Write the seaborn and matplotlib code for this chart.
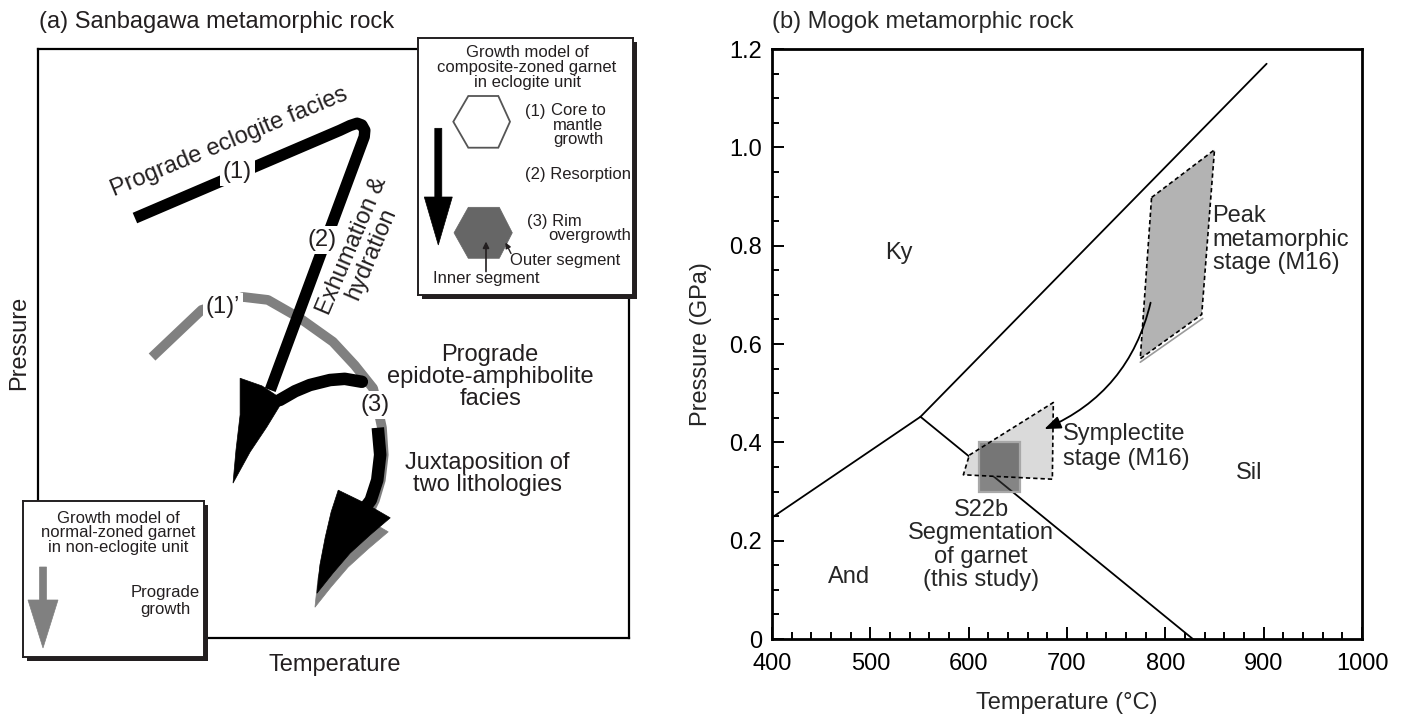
import numpy as np
import pandas as pd
import matplotlib
matplotlib.use("Agg")
import matplotlib.pyplot as plt
import seaborn as sns
from matplotlib.patches import Polygon, Rectangle, FancyArrow, FancyArrowPatch
from matplotlib.ticker import MultipleLocator, FuncFormatter
from matplotlib.transforms import offset_copy

# ---------------- panel (b) data: Mogok (T in degC, P in GPa) ----------------
ky_sil_T = [551, 903]
ky_sil_P = [0.452, 1.170]
ky_and_T = [400, 551]
ky_and_P = [0.247, 0.452]
and_sil_T = [551, 828]
and_sil_P = [0.452, 0.0]
peak_T = [786, 850, 837, 774.5]
peak_P = [0.898, 0.995, 0.660, 0.570]
peak_base_T = [774.5, 838]
peak_base_P = [0.563, 0.652]
sympl_T = [600.7, 686.1, 685.1, 594.6]
sympl_P = [0.374, 0.481, 0.325, 0.334]
s22b_T = [610, 652]
s22b_P = [0.298, 0.400]
retro_T = [785, 677]
retro_P = [0.684, 0.427]
x_major = [400, 500, 600, 700, 800, 900, 1000]
y_major = [0.0, 0.2, 0.4, 0.6, 0.8, 1.0, 1.2]

# ---------------- panel (a) data: schematic P-T paths (arbitrary 0-100 units) ----------------
ecl_T = [16.4, 51.1, 52.8, 54.0, 54.8, 55.3, 55.2, 39.3]
ecl_P = [71.3, 86.2, 87.0, 87.4, 87.1, 86.2, 85.1, 42.1]
headA_T = [34.2, 37.9, 41.5, 38.7, 35.9, 33.0, 33.5, 34.2]
headA_P = [44.1, 42.8, 40.4, 35.8, 31.6, 26.3, 31.9, 37.9]
stage3_T = [40.9, 43.5, 46.0, 49.4, 51.9, 54.8]
stage3_P = [40.4, 41.9, 42.95, 43.8, 44.0, 43.5]
juxt_T = [57.5, 57.9, 57.4, 56.3, 54.8]
juxt_P = [35.7, 31.1, 26.8, 23.4, 21.4]
headJ_T = [50.8, 55.3, 59.6, 56.2, 52.8, 49.9, 47.2, 47.7, 48.6, 49.6]
headJ_P = [25.1, 22.9, 20.4, 17.5, 14.4, 11.0, 7.6, 12.4, 17.1, 21.4]
gray_T = [19.3, 27.7, 34.7, 38.9, 44.3, 49.9, 53.6, 56.7, 57.2, 58.2, 58.5, 58.0, 57.0, 55.8]
gray_P = [47.7, 55.7, 57.9, 57.4, 54.3, 50.3, 46.3, 42.4, 40.4, 35.7, 31.1, 26.8, 23.4, 20.9]

sns.set_theme(style="ticks")
plt.rcParams["font.family"] = ["Liberation Sans", "DejaVu Sans"]
plt.rcParams["axes.linewidth"] = 1.5

W, H = 1404, 721
fig = plt.figure(figsize=(W / 100, H / 100), dpi=100)
fig.patch.set_facecolor("white")


def fx(x):
    return x / W


def fy(y):
    return 1 - y / H


TXT = "#231f20"
FS = 17

# ======================= panel (a) =======================
axA = fig.add_axes([fx(38), fy(638), fx(629) - fx(38), fy(49) - fy(638)], zorder=0)
axA.set_xlim(0, 100)
axA.set_ylim(0, 100)
axA.set_xticks([])
axA.set_yticks([])
for s in axA.spines.values():
    s.set_linewidth(1.6)
    s.set_color("black")

axA.plot(gray_T, gray_P, color="#808080", lw=7, solid_capstyle="butt",
         solid_joinstyle="round", zorder=2)
shadow_tr = offset_copy(axA.transData, fig=fig, x=-2, y=-14, units="dots")
axA.add_patch(Polygon(np.column_stack([headJ_T, headJ_P]), closed=True,
                      fc="#808080", ec="#808080", lw=0.5, transform=shadow_tr, zorder=2))
axA.plot(ecl_T, ecl_P, color="black", lw=8.2, solid_capstyle="butt",
         solid_joinstyle="round", zorder=3)
axA.add_patch(Polygon(np.column_stack([headA_T, headA_P]), closed=True,
                      fc="black", ec="black", lw=0.5, zorder=3))
axA.plot(stage3_T, stage3_P, color="black", lw=9, solid_capstyle="round", zorder=3)
axA.plot(juxt_T, juxt_P, color="black", lw=9, solid_capstyle="butt", zorder=3)
axA.add_patch(Polygon(np.column_stack([headJ_T, headJ_P]), closed=True,
                      fc="black", ec="black", lw=0.5, zorder=3))

wb = dict(boxstyle="square,pad=0.12", fc="white", ec="none")
for (t, p, s) in [(33.7, 79.1, "(1)"), (48.1, 67.6, "(2)"),
                  (31.3, 56.2, "(1)\u2019"), (57.0, 39.6, "(3)")]:
    axA.text(t, p, s, ha="center", va="center", fontsize=FS, color=TXT,
             bbox=wb, zorder=5)

axA.text(32.3, 84.2, "Prograde eclogite facies", rotation=22.5, rotation_mode="anchor",
         ha="center", va="center", fontsize=FS, color=TXT, zorder=5)
axA.text(54.8, 65.9, "Exhumation &\nhydration", rotation=67, rotation_mode="anchor",
         ha="center", va="center", multialignment="center", linespacing=0.95,
         fontsize=FS, color=TXT, zorder=5)
axA.text(76.5, 44.3, "Prograde\nepidote-amphibolite\nfacies", ha="center", va="center",
         multialignment="center", linespacing=1.0, fontsize=FS, color=TXT, zorder=5)
axA.text(76.0, 27.8, "Juxtaposition of\ntwo lithologies", ha="center", va="center",
         multialignment="center", linespacing=1.0, fontsize=FS, color=TXT, zorder=5)

fig.text(fx(335), fy(665), "Temperature", ha="center", va="center", fontsize=FS, color=TXT)
fig.text(fx(19), fy(343), "Pressure", ha="center", va="center", rotation=90,
         fontsize=FS, color=TXT)
fig.text(fx(39), fy(22), "(a) Sanbagawa metamorphic rock", ha="left", va="center",
         fontsize=FS, color=TXT)


def make_inset(x0, y0, x1, y1):
    fig.add_artist(Rectangle((fx(x0 + 4), fy(y1 + 4)), fx(x1) - fx(x0), fy(y0) - fy(y1),
                             transform=fig.transFigure, fc=TXT, ec="none", zorder=4))
    ax = fig.add_axes([fx(x0), fy(y1), fx(x1) - fx(x0), fy(y0) - fy(y1)], zorder=5)
    ax.set_facecolor("white")
    ax.set_xlim(0, x1 - x0)
    ax.set_ylim(y1 - y0, 0)
    ax.set_xticks([])
    ax.set_yticks([])
    for s in ax.spines.values():
        s.set_linewidth(1.4)
        s.set_color(TXT)
    return ax


FI = 12
# top-right inset
axI1 = make_inset(418, 38, 633, 295)
axI1.text(109, 29.5, "Growth model of\ncomposite-zoned garnet\nin eclogite unit", ha="center",
          va="center", multialignment="center", linespacing=0.98, fontsize=FI, color=TXT)
hex_out = [(35.3, 83.7), (50.3, 58), (80.3, 58), (92, 83.7), (80.3, 109.7), (50.3, 109.7)]
axI1.add_patch(Polygon(hex_out, closed=True, fill=False, ec="#555555", lw=1.3))
hex_in = [(36, 194.8), (50.3, 169.3), (81.3, 169.3), (94.3, 194.8), (81.3, 220.3), (50.3, 220.3)]
axI1.add_patch(Polygon(hex_in, closed=True, fc="#666666", ec="#666666", lw=0.5))
axI1.add_patch(FancyArrow(20.3, 90.3, 0, 116.7, width=7, head_width=28, head_length=48,
                          length_includes_head=True, fc="black", ec="black", lw=0.5))
axI1.text(107, 73.7, "(1)", ha="left", va="center", fontsize=FI, color=TXT)
axI1.text(160.3, 87.0, "Core to\nmantle\ngrowth", ha="center", va="center",
          multialignment="center", linespacing=0.92, fontsize=FI, color=TXT)
axI1.text(107, 137, "(2) Resorption", ha="left", va="center", fontsize=FI, color=TXT)
axI1.text(108.7, 183.7, "(3) Rim", ha="left", va="center", fontsize=FI, color=TXT)
axI1.text(130.3, 197, "overgrowth", ha="left", va="center", fontsize=FI, color=TXT)
axI1.text(92, 222, "Outer segment", ha="left", va="center", fontsize=FI, color=TXT)
axI1.text(15.3, 240.3, "Inner segment", ha="left", va="center", fontsize=FI, color=TXT)
axI1.annotate("", xy=(87.5, 204.5), xytext=(93, 215.5),
              arrowprops=dict(arrowstyle="-|>", lw=1.0, color=TXT, mutation_scale=8,
                              shrinkA=0, shrinkB=0))
axI1.annotate("", xy=(68, 203.5), xytext=(68, 233.5),
              arrowprops=dict(arrowstyle="-|>", lw=1.2, color=TXT, mutation_scale=9,
                              shrinkA=0, shrinkB=0))

# bottom-left inset
axI2 = make_inset(23, 501, 204, 657)
axI2.text(95, 32, "Growth model of\nnormal-zoned garnet\nin non-eclogite unit", ha="center",
          va="center", multialignment="center", linespacing=0.98, fontsize=FI, color=TXT)
axI2.add_patch(FancyArrow(20, 66, 0, 81, width=7, head_width=30, head_length=48,
                          length_includes_head=True, fc="#808080", ec="#808080", lw=0.5))
axI2.text(142, 100, "Prograde\ngrowth", ha="center", va="center", multialignment="center",
          linespacing=1.15, fontsize=FI, color=TXT)

# ======================= panel (b) =======================
axB = fig.add_axes([fx(772), fy(639), fx(1362) - fx(772), fy(49) - fy(639)], zorder=0)
for T, P in [(ky_sil_T, ky_sil_P), (ky_and_T, ky_and_P), (and_sil_T, and_sil_P)]:
    sns.lineplot(x=T, y=P, ax=axB, color="black", lw=1.3, sort=False, estimator=None,
                 legend=False, zorder=1.5)

axB.fill(peak_T, peak_P, fc="#b3b3b3", ec="none", zorder=2)
axB.plot(peak_base_T, peak_base_P, color="#9a9a9a", lw=1.2, zorder=2.5)
axB.plot(peak_T + peak_T[:1], peak_P + peak_P[:1], color="black", lw=1.2,
         ls=(0, (2.6, 1.8)), zorder=4)
axB.fill(sympl_T, sympl_P, fc="#dadada", ec="none", zorder=2)
axB.add_patch(Rectangle((s22b_T[0], s22b_P[0]), s22b_T[1] - s22b_T[0], s22b_P[1] - s22b_P[0],
                        fc="#343434", alpha=0.6, ec="none", zorder=3))
axB.add_patch(Rectangle((s22b_T[0], s22b_P[0]), s22b_T[1] - s22b_T[0], s22b_P[1] - s22b_P[0],
                        fill=False, ec="#a8a8a8", lw=1.6, zorder=3.2))
axB.plot(sympl_T + sympl_T[:1], sympl_P + sympl_P[:1], color="black", lw=1.2,
         ls=(0, (2.6, 1.8)), zorder=4)
axB.add_patch(FancyArrowPatch((retro_T[0], retro_P[0]), (retro_T[1], retro_P[1]),
                              connectionstyle="arc3,rad=-0.25",
                              arrowstyle="-|>,head_length=0.9,head_width=0.35",
                              mutation_scale=11, lw=1.3, color="black", zorder=5,
                              shrinkA=0, shrinkB=0))

axB.text(529, 0.786, "Ky", ha="center", va="center", fontsize=FS)
axB.text(885, 0.337, "Sil", ha="center", va="center", fontsize=FS)
axB.text(478.6, 0.126, "And", ha="center", va="center", fontsize=FS)
axB.text(848, 0.8125, "Peak\nmetamorphic\nstage (M16)", ha="left", va="center",
         linespacing=1.1, fontsize=FS)
axB.text(696, 0.391, "Symplectite\nstage (M16)", ha="left", va="center",
         linespacing=1.15, fontsize=FS)
axB.text(612.7, 0.191, "S22b\nSegmentation\nof garnet\n(this study)", ha="center",
         va="center", multialignment="center", linespacing=1.08, fontsize=FS)

axB.set_xlim(400, 1000)
axB.set_ylim(0, 1.2)
axB.set_xticks(x_major)
axB.set_yticks(y_major)
axB.xaxis.set_minor_locator(MultipleLocator(20))
axB.yaxis.set_minor_locator(MultipleLocator(0.05))
axB.yaxis.set_major_formatter(FuncFormatter(lambda v, _: "0" if abs(v) < 1e-9 else f"{v:.1f}"))
axB.tick_params(which="both", direction="in", top=False, right=False, width=1.4,
                color="black", labelsize=FS, labelcolor="black")
axB.tick_params(which="major", length=8.5)
axB.tick_params(axis="x", which="major", pad=10)
axB.tick_params(axis="y", which="major", pad=7)
axB.tick_params(which="minor", length=5)
for s in axB.spines.values():
    s.set_linewidth(2.0)
    s.set_color("black")
axB.set_xlabel("")
axB.set_ylabel("")
fig.text(fx(1067), fy(703), "Temperature (\u00b0C)", ha="center", va="center", fontsize=FS)
fig.text(fx(701), fy(344), "Pressure (GPa)", ha="center", va="center", rotation=90,
         fontsize=FS)
fig.text(fx(772), fy(22), "(b) Mogok metamorphic rock", ha="left", va="center", fontsize=FS)

fig.savefig("out.png", dpi=100)
